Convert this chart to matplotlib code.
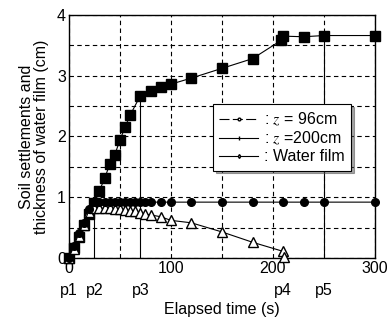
import numpy as np
import matplotlib
matplotlib.use("Agg")
import matplotlib.pyplot as plt
from matplotlib.lines import Line2D
from matplotlib.ticker import MultipleLocator

plt.rcParams['font.family'] = ['Liberation Sans', 'DejaVu Sans']
plt.rcParams['mathtext.fontset'] = 'stix'

# z = 200cm settlement (squares)
sq_t = [0, 5, 10, 15, 20, 25, 30, 35, 40, 45, 50, 55, 60, 70, 80, 90, 100,
        120, 150, 180, 208, 210, 230, 250, 300]
sq_s = [0, 0.16, 0.34, 0.54, 0.72, 0.91, 1.11, 1.31, 1.54, 1.70, 1.94, 2.15,
        2.35, 2.67, 2.75, 2.82, 2.86, 2.96, 3.12, 3.28, 3.58, 3.65, 3.64,
        3.66, 3.66]

# z = 96cm settlement (circles)
ci_t = [0, 5, 10, 15, 20, 25, 30, 35, 40, 45, 50, 55, 60, 65, 70, 75, 80,
        90, 100, 120, 150, 180, 210, 230, 250, 300]
ci_s = [0, 0.2, 0.42, 0.58, 0.8, 0.92, 0.92, 0.92, 0.92, 0.92, 0.92, 0.92,
        0.92, 0.92, 0.92, 0.92, 0.92, 0.92, 0.92, 0.92, 0.92, 0.92, 0.92,
        0.92, 0.92, 0.92]

# water film thickness (triangles)
tr_t = [0, 5, 10, 15, 20, 25, 30, 35, 40, 45, 50, 55, 60, 65, 70, 75, 80,
        90, 100, 120, 150, 180, 210, 211]
tr_h = [0, 0.15, 0.36, 0.55, 0.75, 0.82, 0.82, 0.82, 0.82, 0.81, 0.80, 0.79,
        0.78, 0.77, 0.74, 0.72, 0.71, 0.68, 0.62, 0.58, 0.43, 0.26, 0.11, 0.02]

# marked stages
p_names = ['p1', 'p2', 'p3', 'p4', 'p5']
p_t = [0, 25, 70, 210, 250]
# solid guide lines (time, height)
guide_t = [25, 70, 250]
guide_h = [0.92, 2.67, 3.66]

fs = 11.5

fig = plt.figure(figsize=(3.87, 3.23), dpi=100)
ax = fig.add_axes([0.178, 0.201, 0.791, 0.753])

ax.set_xlim(0, 300)
ax.set_ylim(0, 4)
ax.xaxis.set_major_locator(MultipleLocator(100))
ax.xaxis.set_minor_locator(MultipleLocator(50))
ax.yaxis.set_major_locator(MultipleLocator(1))
ax.yaxis.set_minor_locator(MultipleLocator(0.5))
ax.grid(True, which='both', color='black', linestyle=(0, (4, 3)), linewidth=0.8)
ax.set_axisbelow(True)
ax.tick_params(which='both', length=0, labelsize=fs, pad=2)

for t, h in zip(guide_t, guide_h):
    ax.plot([t, t], [0, h], color='black', linewidth=0.8, zorder=2)

ax.plot(sq_t, sq_s, '-s', color='black', markersize=7, linewidth=0.8,
        markerfacecolor='black', zorder=3, clip_on=False)
ax.plot(tr_t, tr_h, '-^', color='black', markersize=6.5, linewidth=0.8,
        markerfacecolor='white', zorder=4, clip_on=False)
ax.plot(ci_t, ci_s, '-o', color='black', markersize=5.5, linewidth=0.8,
        markerfacecolor='black', zorder=5, clip_on=False)

for s in ax.spines.values():
    s.set_linewidth(1.0)

for name, t in zip(p_names, p_t):
    ax.text(t, -0.53, name, ha='center', va='center', fontsize=fs)

ax.set_xlabel('Elapsed time (s)', fontsize=fs, labelpad=19)
ax.set_ylabel('Soil settlements and\nthickness of water film (cm)', fontsize=fs,
              labelpad=6, linespacing=0.95)

handles = [Line2D([0], [0], color='black', linewidth=0.8, linestyle=(0, (9, 3)),
                  marker='o', markersize=2, markerfacecolor='white'),
           Line2D([0], [0], color='black', linewidth=0.8,
                  marker='|', markersize=3),
           Line2D([0], [0], color='black', linewidth=0.8,
                  marker='d', markersize=2, markerfacecolor='white')]
labels = [r': $z$ = 96cm', r': $z$ =200cm', ': Water film']
leg = ax.legend(handles, labels, loc='upper left', bbox_to_anchor=(0.445, 0.665),
                fontsize=fs, frameon=True, fancybox=False, shadow=True,
                edgecolor='black', framealpha=1, handlelength=2.4,
                handletextpad=0.4, labelspacing=0.12, borderpad=0.4)
leg.get_frame().set_linewidth(0.8)
leg.set_zorder(10)

fig.savefig('out.png', dpi=100)
